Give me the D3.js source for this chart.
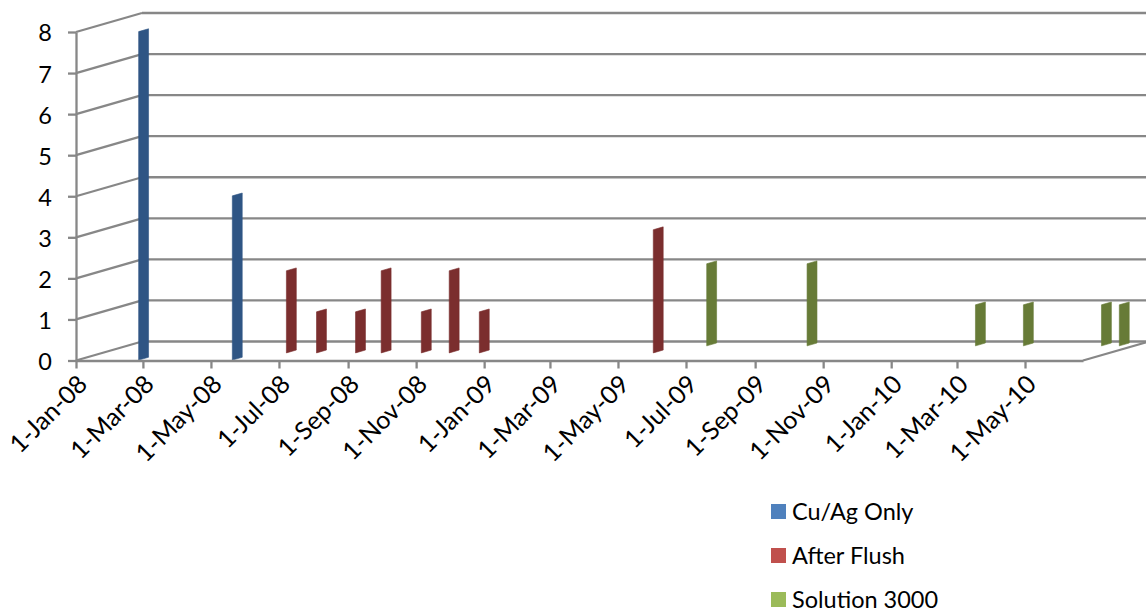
<!DOCTYPE html>
<html>
<head>
<meta charset="utf-8">
<script src="https://cdn.jsdelivr.net/npm/d3@7"></script>
<style>
  html, body { margin: 0; padding: 0; background: #fff; }
  svg { display: block; font-family: Lato, "Open Sans", sans-serif; }
</style>
</head>
<body>
<svg id="chart" width="1146" height="612"></svg>
<script>
// Series (sample dates and counts)
const seriesNames = ["Cu/Ag Only", "After Flush", "Solution 3000"];
const cuAgDates = ["2008-02-25", "2008-05-19"];
const cuAgValues = [8, 4];
const flushDates = ["2008-06-14", "2008-07-11", "2008-08-15", "2008-09-07",
                    "2008-10-13", "2008-11-07", "2008-12-04", "2009-05-09"];
const flushValues = [2, 1, 1, 2, 1, 2, 1, 3];
const solutionDates = ["2009-06-04", "2009-09-02", "2010-01-31", "2010-03-15",
                       "2010-05-24", "2010-06-09"];
const solutionValues = [2, 2, 1, 1, 1, 1];

// Axis ticks
const yTicks = [0, 1, 2, 3, 4, 5, 6, 7, 8];
const xTickLabels = ["1-Jan-08", "1-Mar-08", "1-May-08", "1-Jul-08", "1-Sep-08",
  "1-Nov-08", "1-Jan-09", "1-Mar-09", "1-May-09", "1-Jul-09", "1-Sep-09",
  "1-Nov-09", "1-Jan-10", "1-Mar-10", "1-May-10"];
const axisStart = "2008-01-01";
const axisEnd = "2010-06-22";

const legendColors = ["#4f81bd", "#c0504d", "#9bbb59"];
const barColors = ["#2f5584", "#7b2e2e", "#677b37"];
const rowDepth = [0.02, 0.40, 0.77];   // where each series row sits along the depth
const barDepth = 0.15;                 // thickness of a column along the depth

const parseISO = d3.timeParse("%Y-%m-%d");
const parseTick = d3.timeParse("%d-%b-%y");
const fmtTick = d3.timeFormat("%-d-%b-%y");

const svg = d3.select("#chart");

// Oblique 3-D projection: depth d in [0,1] shifts right and up
const DX = 66, DY = -19;
const x = d3.scaleTime()
  .domain([parseISO(axisStart), parseISO(axisEnd)])
  .range([76, 1083]);
const y = d3.scaleLinear().domain([0, 8]).range([360.5, 32]);
const px = (date, d) => x(date) + DX * d;
const py = (v, d) => y(v) + DY * d;

const gridColor = "#878787";
const grid = svg.append("g")
  .attr("stroke", gridColor).attr("stroke-width", 2.3).attr("fill", "none");

// Side wall (left) lines and back wall horizontals
const x0 = x.domain()[0], x1 = x.domain()[1];
grid.selectAll("line.side").data(yTicks).join("line")
  .attr("class", "side")
  .attr("x1", px(x0, 0)).attr("y1", v => py(v, 0))
  .attr("x2", px(x0, 1)).attr("y2", v => py(v, 1));
grid.selectAll("line.back").data(yTicks).join("line")
  .attr("class", "back")
  .attr("x1", px(x0, 1)).attr("y1", v => py(v, 1))
  .attr("x2", px(x1, 1)).attr("y2", v => py(v, 1));

// Floor right edge
grid.append("line")
  .attr("x1", px(x1, 0)).attr("y1", py(0, 0))
  .attr("x2", px(x1, 1)).attr("y2", py(0, 1));

// Columns, drawn back row first
const series = [
  { dates: cuAgDates, values: cuAgValues },
  { dates: flushDates, values: flushValues },
  { dates: solutionDates, values: solutionValues }
];
const barPath = (date, v, d0) => {
  const d1 = d0 + barDepth;
  return d3.line()([
    [px(date, d0), py(0, d0)],
    [px(date, d1), py(0, d1)],
    [px(date, d1), py(v, d1)],
    [px(date, d0), py(v, d0)]
  ]) + "Z";
};
[2, 1, 0].forEach(i => {
  const s = series[i];
  const rows = s.dates.map((dt, k) => ({ date: parseISO(dt), value: s.values[k] }));
  svg.append("g").selectAll("path").data(rows).join("path")
    .attr("d", r => barPath(r.date, r.value, rowDepth[i]))
    .attr("fill", barColors[i])
    .attr("stroke", barColors[i])
    .attr("stroke-width", 0.6);
});

// Front value axis
const yAxis = svg.append("g")
  .attr("transform", `translate(${px(x0, 0)},0)`)
  .call(d3.axisLeft(y).tickValues(yTicks).tickSize(8).tickSizeOuter(0).tickPadding(16));
yAxis.select(".domain").attr("stroke", gridColor).attr("stroke-width", 2.3);
yAxis.selectAll(".tick line").attr("stroke", gridColor).attr("stroke-width", 2.3);
yAxis.selectAll(".tick text")
  .attr("font-size", 23.5).attr("fill", "#000").attr("font-family", "Lato, sans-serif")
  .attr("dy", "0.38em");

// Front date axis
const xTicks = xTickLabels.map(parseTick);
const xAxis = svg.append("g")
  .attr("transform", `translate(0,${py(0, 0)})`)
  .call(d3.axisBottom(x).tickValues(xTicks).tickFormat(fmtTick)
    .tickSize(8).tickSizeOuter(0));
xAxis.select(".domain").attr("stroke", gridColor).attr("stroke-width", 2.3);
xAxis.selectAll(".tick line").attr("stroke", gridColor).attr("stroke-width", 2.3);
xAxis.selectAll(".tick text")
  .attr("font-size", 25).attr("fill", "#000").attr("font-family", "Lato, sans-serif")
  .attr("text-anchor", "end")
  .attr("dy", "0.35em")
  .attr("transform", "translate(6,19) rotate(-45)")
  .attr("x", 0).attr("y", 0);

// Legend
const legend = svg.append("g").attr("transform", "translate(771,504)");
const items = legend.selectAll("g").data(seriesNames).join("g")
  .attr("transform", (d, i) => `translate(0,${i * 44})`);
items.append("rect").attr("width", 15).attr("height", 15)
  .attr("fill", (d, i) => legendColors[i]);
items.append("text").attr("x", 21).attr("y", 16)
  .attr("font-size", 23.5).attr("fill", "#000")
  .text(d => d);
</script>
</body>
</html>
